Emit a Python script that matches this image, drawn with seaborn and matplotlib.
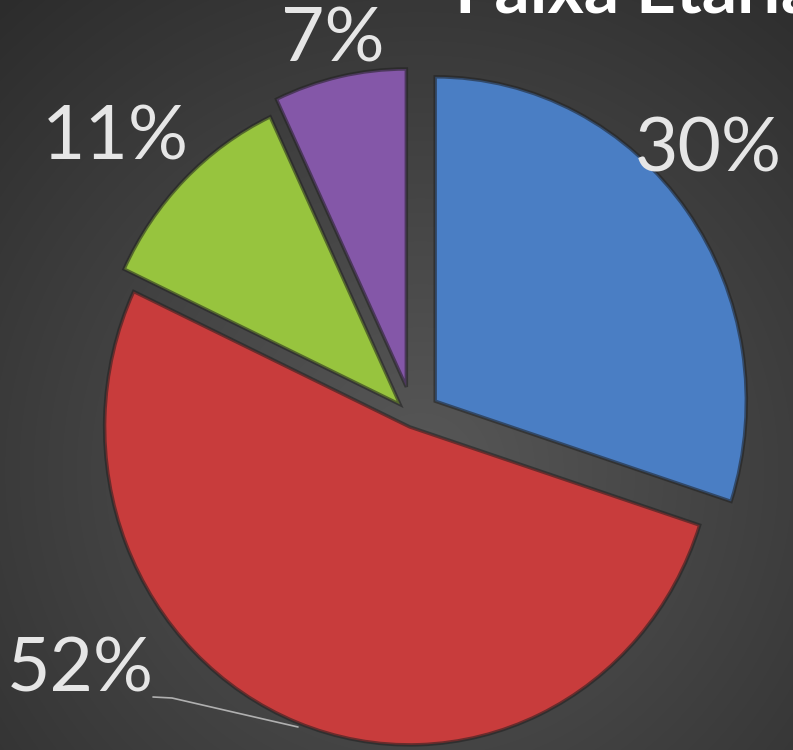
import numpy as np
import matplotlib
matplotlib.use("Agg")
import matplotlib.pyplot as plt
import seaborn as sns

# ---- data ----
title = "Faixa Etária"
values = [30, 52, 11, 7]
labels = ["30%", "52%", "11%", "7%"]
colors = ["#4a7ec4", "#c83c3c", "#97c43e", "#8457a8"]
explode = [0.09, 0.03, 0.06, 0.10]

sns.set_style("dark")
plt.rcParams["font.family"] = ["Lato", "DejaVu Sans"]

W, H = 793, 750
fig = plt.figure(figsize=(W / 100, H / 100), dpi=100)

# background radial gradient
axbg = fig.add_axes([0, 0, 1, 1], zorder=0)
yy, xx = np.mgrid[0:H, 0:W]
r = np.hypot(xx - 420, yy - 470) / 630.0
r = np.clip(r, 0, 1)
c0, c1 = 0x58 / 255, 0x2c / 255
g = c0 + (c1 - c0) * r
axbg.imshow(np.dstack([g, g, g]), aspect="auto", extent=(0, W, H, 0))
axbg.set_axis_off()

# pie axes: pixel mapping
cx, cy = 413, 418
sx, sy = 305, 318
ax = fig.add_axes([0, 0, 1, 1], zorder=1)
ax.patch.set_alpha(0)
wedges, _ = ax.pie(values, colors=colors, explode=explode, startangle=90,
                   counterclock=False, radius=1.0,
                   wedgeprops=dict(edgecolor=(0.12, 0.12, 0.12, 0.55), linewidth=2.5))
wedges[0].set_radius(1.02)
ax.set_aspect("auto")
ax.set_xlim(-cx / sx, (W - cx) / sx)
ax.set_ylim(-(H - cy) / sy, cy / sy)
ax.set_axis_off()


def px(x, y):
    return ((x - cx) / sx, (cy - y) / sy)


label_pos = [(708, 150), (80, 670), (115, 138), (333, 40)]
for lab, (x, y) in zip(labels, label_pos):
    ax.text(*px(x, y), lab, ha="center", va="center", fontsize=54,
            color="#e6e6e6", fontweight="normal")

# leader line for 52%
lx = [153, 172, 298]
ly = [697, 698, 727]
pts = [px(a, b) for a, b in zip(lx, ly)]
ax.plot([p[0] for p in pts], [p[1] for p in pts], color="#b0b0b0", lw=1.2)

# title (partly cut off at top, as in the reference)
ax.text(*px(455, 13), title, ha="left", va="baseline", fontsize=50,
        fontweight="bold", color="white", clip_on=False)

fig.savefig("out.png", dpi=100)
